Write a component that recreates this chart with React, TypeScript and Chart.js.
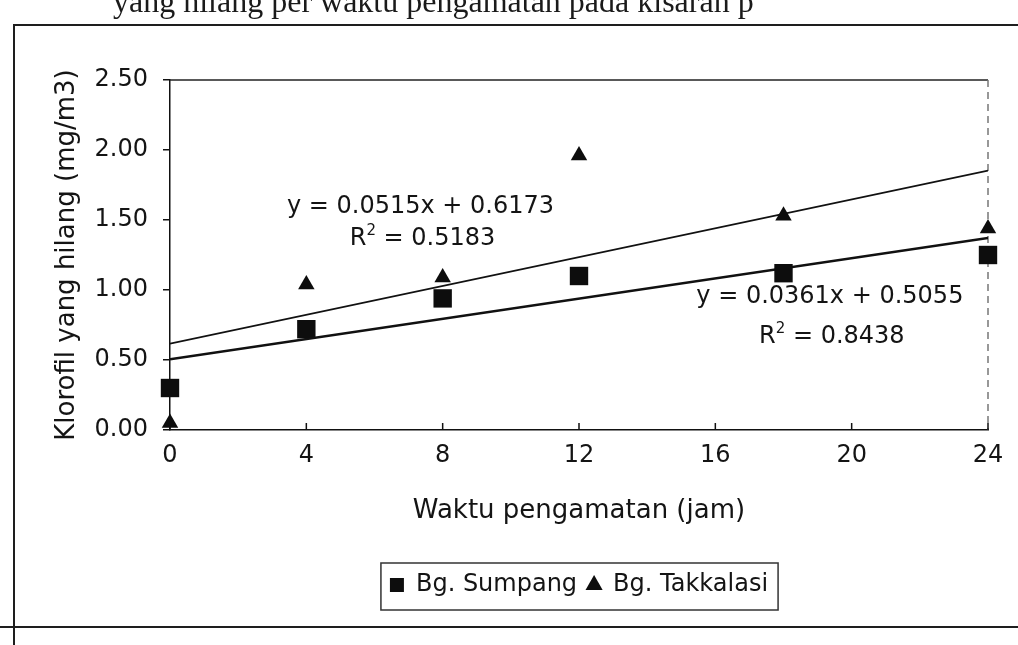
import React, { useEffect, useRef } from "react";
import { Chart, registerables } from "chart.js";

Chart.register(...registerables);

// ---- data ----
const hours = [0, 4, 8, 12, 18, 24];
const sumpang = [0.3, 0.72, 0.94, 1.1, 1.12, 1.25];
const takkalasi = [0.05, 1.04, 1.09, 1.96, 1.53, 1.44];
const xTicks = [0, 4, 8, 12, 16, 20, 24];
const yTicks = [0, 0.5, 1, 1.5, 2, 2.5];
const seriesNames = ["Bg. Sumpang", "Bg. Takkalasi"];
const sumpangFit = { slope: 0.0361, intercept: 0.5055, r2: 0.8438 };
const takkalasiFit = { slope: 0.0515, intercept: 0.6173, r2: 0.5183 };
const headerText = "yang hilang per waktu pengamatan pada kisaran p";
const yTitle = "Klorofil yang hilang (mg/m3)";
const xTitle = "Waktu pengamatan (jam)";

const FONT = '"DejaVu Sans", "Liberation Sans", sans-serif';
const INK = "#141414";

const xMin = xTicks[0];
const xMax = xTicks[xTicks.length - 1];

function fitLine(fit: { slope: number; intercept: number }) {
  return [
    { x: xMin, y: fit.intercept + fit.slope * xMin },
    { x: xMax, y: fit.intercept + fit.slope * xMax },
  ];
}

function drawR2(ctx: CanvasRenderingContext2D, cx: number, y: number, value: number) {
  const main = `24px ${FONT}`;
  const sup = `15px ${FONT}`;
  ctx.font = main;
  const wR = ctx.measureText("R").width;
  const rest = " = " + value.toFixed(4);
  const wRest = ctx.measureText(rest).width;
  ctx.font = sup;
  const wS = ctx.measureText("2").width;
  let x = cx - (wR + wS + wRest) / 2;
  ctx.textAlign = "left";
  ctx.font = main;
  ctx.fillText("R", x, y);
  x += wR;
  ctx.font = sup;
  ctx.fillText("2", x, y - 10);
  x += wS;
  ctx.font = main;
  ctx.fillText(rest, x, y);
}

const decor = {
  id: "decor",
  beforeDraw(chart: any) {
    const ctx: CanvasRenderingContext2D = chart.ctx;
    ctx.save();
    ctx.fillStyle = "#fff";
    ctx.fillRect(0, 0, chart.width, chart.height);
    // header text (cut by the page top)
    ctx.fillStyle = "#1a1a1a";
    ctx.font = '32px "Liberation Serif", serif';
    ctx.textBaseline = "alphabetic";
    ctx.textAlign = "left";
    ctx.fillText(headerText, 113, 12);
    // outer frame
    ctx.strokeStyle = "#1e1e1e";
    ctx.lineWidth = 2;
    ctx.beginPath();
    ctx.moveTo(14, 645);
    ctx.lineTo(14, 25);
    ctx.lineTo(1018, 25);
    ctx.moveTo(0, 627);
    ctx.lineTo(1018, 627);
    ctx.stroke();
    ctx.restore();
  },
  beforeDatasetsDraw(chart: any) {
    const ctx: CanvasRenderingContext2D = chart.ctx;
    const ca = chart.chartArea;
    const xs = chart.scales.x;
    ctx.save();
    // plot area border (top solid, right dashed)
    ctx.strokeStyle = "#222";
    ctx.lineWidth = 1.5;
    ctx.beginPath();
    ctx.moveTo(ca.left, ca.top);
    ctx.lineTo(ca.right, ca.top);
    ctx.stroke();
    ctx.strokeStyle = "#777";
    ctx.setLineDash([7, 5]);
    ctx.beginPath();
    ctx.moveTo(ca.right, ca.top);
    ctx.lineTo(ca.right, ca.bottom);
    ctx.stroke();
    ctx.setLineDash([]);
    // x tick marks pointing inward
    ctx.strokeStyle = "#111";
    ctx.lineWidth = 1.5;
    ctx.beginPath();
    xs.ticks.forEach((t: any) => {
      const px = xs.getPixelForValue(t.value);
      ctx.moveTo(px, ca.bottom);
      ctx.lineTo(px, ca.bottom - 7);
    });
    ctx.stroke();
    ctx.restore();
  },
  afterDraw(chart: any) {
    const ctx: CanvasRenderingContext2D = chart.ctx;
    const xs = chart.scales.x;
    const ys = chart.scales.y;
    ctx.save();
    // trendline equations
    ctx.fillStyle = INK;
    ctx.textBaseline = "alphabetic";
    ctx.textAlign = "center";
    ctx.font = `24px ${FONT}`;
    const eq = (f: { slope: number; intercept: number }) =>
      `y = ${f.slope.toFixed(4)}x + ${f.intercept.toFixed(4)}`;
    const e1x = xs.getPixelForValue(7.35);
    ctx.fillText(eq(takkalasiFit), e1x, ys.getPixelForValue(1.55));
    drawR2(ctx, e1x + 2, ys.getPixelForValue(1.32), takkalasiFit.r2);
    const e2x = xs.getPixelForValue(19.36);
    ctx.textAlign = "center";
    ctx.font = `24px ${FONT}`;
    ctx.fillText(eq(sumpangFit), e2x, ys.getPixelForValue(0.91));
    drawR2(ctx, e2x + 2, ys.getPixelForValue(0.62), sumpangFit.r2);
    // legend frame
    const boxes = chart.legend && chart.legend.legendHitBoxes;
    if (boxes && boxes.length) {
      const l = Math.min(...boxes.map((b: any) => b.left)) - 9;
      const r = Math.max(...boxes.map((b: any) => b.left + b.width)) + 10;
      const t = Math.min(...boxes.map((b: any) => b.top)) - 10;
      const bt = Math.max(...boxes.map((b: any) => b.top + b.height)) + 13;
      ctx.strokeStyle = "#333";
      ctx.lineWidth = 1.5;
      ctx.strokeRect(l, t, r - l, bt - t);
    }
    ctx.restore();
  },
};

export default function App() {
  const ref = useRef<HTMLCanvasElement>(null);
  useEffect(() => {
    if (!ref.current) return;
    Chart.defaults.font.family = FONT;
    Chart.defaults.color = INK;
    const chart = new Chart(ref.current, {
      type: "scatter",
      data: {
        datasets: [
          {
            label: seriesNames[0],
            data: hours.map((h, i) => ({ x: h, y: sumpang[i] })),
            pointStyle: "rect",
            pointRadius: 13,
            backgroundColor: "#0d0d0d",
            borderColor: "#0d0d0d",
            borderWidth: 0,
            clip: false,
            order: 0,
          },
          {
            label: seriesNames[1],
            data: hours.map((h, i) => ({ x: h, y: takkalasi[i] })),
            pointStyle: "triangle",
            pointRadius: 9.5,
            backgroundColor: "#0d0d0d",
            borderColor: "#0d0d0d",
            borderWidth: 0,
            clip: false,
            order: 0,
          },
          {
            type: "line",
            label: "fit-sumpang",
            data: fitLine(sumpangFit),
            borderColor: "#111",
            borderWidth: 2.6,
            pointRadius: 0,
            fill: false,
            order: 1,
          },
          {
            type: "line",
            label: "fit-takkalasi",
            data: fitLine(takkalasiFit),
            borderColor: "#111",
            borderWidth: 1.8,
            pointRadius: 0,
            fill: false,
            order: 1,
          },
        ] as any,
      },
      options: {
        animation: false,
        responsive: false,
        devicePixelRatio: 1,
        layout: { padding: { left: 0, right: 30, top: 80, bottom: 38 } },
        plugins: {
          tooltip: { enabled: false },
          legend: {
            position: "bottom",
            fullSize: false,
            labels: {
              usePointStyle: true,
              boxWidth: 14,
              boxHeight: 14,
              padding: 10,
              color: INK,
              font: { size: 24, family: FONT },
              filter: (item: any) => seriesNames.includes(item.text),
            },
          },
        },
        scales: {
          x: {
            type: "linear",
            min: xMin,
            max: xMax,
            afterBuildTicks: (s: any) => {
              s.ticks = xTicks.map((v) => ({ value: v }));
            },
            afterFit: (s: any) => {
              s.height = 133;
            },
            grid: { display: false, drawTicks: false },
            border: { display: true, color: "#111", width: 1.5 },
            ticks: { padding: 11, color: INK, font: { size: 24 }, maxRotation: 0 },
            title: {
              display: true,
              text: xTitle,
              color: INK,
              font: { size: 26 },
              padding: { top: 36, bottom: 36 },
            },
          },
          y: {
            type: "linear",
            min: yTicks[0],
            max: yTicks[yTicks.length - 1],
            afterBuildTicks: (s: any) => {
              s.ticks = yTicks.map((v) => ({ value: v }));
            },
            afterFit: (s: any) => {
              s.width = 170;
            },
            grid: {
              display: true,
              drawOnChartArea: false,
              drawTicks: true,
              tickLength: 7,
              color: "#111",
              lineWidth: 1.5,
            },
            border: { display: true, color: "#111", width: 1.5 },
            ticks: {
              padding: 15,
              color: INK,
              font: { size: 24 },
              callback: (v: any) => Number(v).toFixed(2),
            },
            title: {
              display: true,
              text: yTitle,
              color: INK,
              font: { size: 26 },
              padding: { top: 52, bottom: 52 },
            },
          },
        },
      },
      plugins: [decor],
    });
    return () => chart.destroy();
  }, []);
  return (
    <div style={{ position: "fixed", left: 0, top: 0, width: 1018, height: 645, background: "#fff" }}>
      <canvas ref={ref} width={1018} height={645} style={{ display: "block", width: 1018, height: 645 }} />
    </div>
  );
}
